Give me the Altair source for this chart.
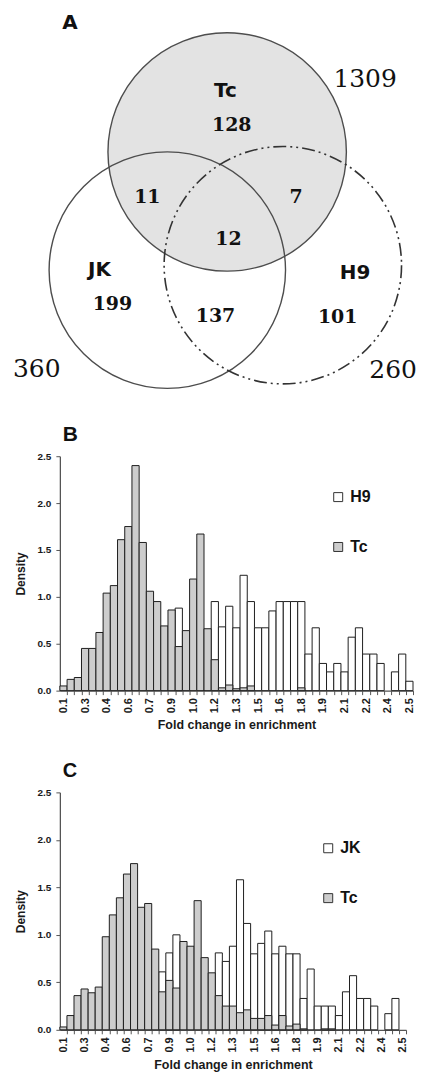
import altair as alt
import pandas as pd

# ---------------- data ----------------
# Panel A (Venn)
SET_NAMES = ["Tc", "JK", "H9"]
SET_TOTALS = ["1309", "360", "260"]
REGION_NAMES = ["Tc only", "JK only", "H9 only", "Tc&JK", "Tc&H9", "JK&H9", "all"]
REGION_COUNTS = ["128", "199", "101", "11", "7", "137", "12"]

# Panels B and C: density histograms, bins of 0.05 centred on 0.1, 0.15, ... 2.5
BIN_FIRST_CENTER = 0.1
BIN_WIDTH = 0.05
TICK_LABELS = ["0.1", "0.3", "0.4", "0.6", "0.7", "0.9", "1.0", "1.2", "1.3",
               "1.5", "1.6", "1.8", "1.9", "2.1", "2.2", "2.4", "2.5"]

B_TC = [0.05, 0.12, 0.14, 0.45, 0.45, 0.62, 1.04, 1.12, 1.61, 1.75, 2.40, 1.58,
        1.06, 0.95, 0.69, 0.86, 0.47, 0.64, 1.19, 1.67, 0.66, 0.33, 0.03, 0.06,
        0.02, 0.03, 0.05, 0, 0, 0, 0, 0, 0, 0.03, 0, 0, 0, 0, 0, 0, 0, 0, 0, 0,
        0, 0, 0, 0, 0]
B_H9 = [0, 0, 0, 0, 0, 0, 0, 0, 0, 0, 0, 0, 0, 0, 0, 0, 0.88, 0, 0, 0, 0,
        0.95, 0.68, 0.90, 0.67, 1.23, 0.95, 0.67, 0.67, 0.85, 0.95, 0.95, 0.95,
        0.95, 0.39, 0.67, 0.29, 0.20, 0.29, 0.20, 0.57, 0.67, 0.39, 0.39, 0.29,
        0, 0.20, 0.39, 0.10]
C_TC = [0.03, 0.15, 0.36, 0.43, 0.39, 0.45, 0.98, 1.21, 1.39, 1.64, 1.75, 1.29,
        1.33, 0.85, 0.40, 0.52, 0.44, 0.93, 0.88, 1.36, 0.76, 0.60, 0.36, 0.25,
        0.25, 0.18, 0.21, 0.12, 0.12, 0.15, 0.05, 0.15, 0.04, 0.06, 0.01, 0, 0,
        0.01, 0.01, 0, 0, 0, 0, 0, 0, 0, 0, 0, 0]
C_JK = [0, 0, 0, 0, 0, 0, 0, 0, 0, 0, 0, 0, 0, 0, 0.61, 0.81, 1.00, 0, 0, 0, 0,
        0, 0.81, 0.72, 0.88, 1.58, 1.12, 0.80, 0.91, 1.04, 0.80, 0.88, 0.80,
        0.80, 0.33, 0.64, 0.25, 0.25, 0.25, 0.15, 0.40, 0.57, 0.33, 0.33, 0.25,
        0, 0.17, 0.33, 0]

# ---------------- Venn geometry (diagram units) ----------------
CIRCLE_CX = [226.7, 166.7, 282.5]
CIRCLE_CY = [151.0, 269.5, 264.5]
CIRCLE_R = [119.5, 118.5, 119.0]
SET_LABEL_POS = [(225, 90.3), (98.7, 269.7), (355, 272)]
TOTAL_POS = [(365, 77.8), (35.8, 368.8), (393, 370)]
REGION_POS = [(231.3, 124.2), (111.7, 303.3), (337.5, 316.7), (146.7, 195.8),
              (295.8, 195.8), (215, 315), (228, 238.3)]

X0 = 59          # diagram unit aligned with the histogram y axes
VW, VH = 359, 386
vx = alt.Scale(domain=[X0, X0 + VW], nice=False, zero=False)
vy = alt.Scale(domain=[8, 8 + VH], nice=False, zero=False, reverse=True)

circles = pd.DataFrame({
    "name": SET_NAMES, "cx": CIRCLE_CX, "cy": CIRCLE_CY,
    "size": [(2 * r) ** 2 for r in CIRCLE_R],
})


def venn_enc(ch):
    return ch.encode(
        x=alt.X("cx:Q", scale=vx, axis=None),
        y=alt.Y("cy:Q", scale=vy, axis=None),
        size=alt.Size("size:Q", scale=None, legend=None),
    )


tc_fill = venn_enc(alt.Chart(circles[circles.name == "Tc"]).mark_point(
    shape="circle", filled=True, color="#e3e3e3", opacity=1, strokeWidth=0))
solid = venn_enc(alt.Chart(circles[circles.name != "H9"]).mark_point(
    shape="circle", filled=False, color="#4d4d4d", opacity=1, strokeWidth=1.4))
dashed = venn_enc(alt.Chart(circles[circles.name == "H9"]).mark_point(
    shape="circle", filled=False, color="#333333", opacity=1, strokeWidth=1.6,
    strokeDash=[13, 4, 2, 4, 2, 4]))

set_lab = pd.DataFrame({"t": SET_NAMES, "x": [p[0] for p in SET_LABEL_POS],
                        "y": [p[1] for p in SET_LABEL_POS]})
tot_lab = pd.DataFrame({"t": SET_TOTALS, "x": [p[0] for p in TOTAL_POS],
                        "y": [p[1] for p in TOTAL_POS]})
reg_lab = pd.DataFrame({"t": REGION_COUNTS, "r": REGION_NAMES,
                        "x": [p[0] for p in REGION_POS],
                        "y": [p[1] for p in REGION_POS]})
panel_a = pd.DataFrame({"t": ["A"], "x": [69], "y": [21.7]})


def txt(df, **kw):
    return alt.Chart(df).mark_text(baseline="middle", align="center", color="#111", **kw).encode(
        x=alt.X("x:Q", scale=vx, axis=None),
        y=alt.Y("y:Q", scale=vy, axis=None),
        text="t:N",
    )


venn = alt.layer(
    tc_fill, solid, dashed,
    txt(set_lab, font="DejaVu Sans", fontSize=20, fontWeight="bold"),
    txt(reg_lab, font="DejaVu Serif", fontSize=19, fontWeight="bold"),
    txt(tot_lab, font="DejaVu Serif", fontSize=25),
    txt(panel_a, font="DejaVu Sans", fontSize=20, fontWeight="bold"),
).properties(width=VW, height=VH)

# ---------------- histograms ----------------
NB = len(B_TC)
lo0 = BIN_FIRST_CENTER - BIN_WIDTH / 2
hi_end = lo0 + NB * BIN_WIDTH
half = BIN_WIDTH / 2
tick_vals = [round(lo0 + half * j, 4) for j in range(2 * NB + 1)]
labels_js = "[" + ",".join("'%s'" % s for s in TICK_LABELS) + "]"
kexpr = "round((datum.value-%g)/%g)" % (lo0, half)
label_expr = ("(%s %% 2 == 1 && ((%s-1)/2) %% 3 == 0) ? %s[((%s-1)/2)/3] : ''"
              % (kexpr, kexpr, labels_js, kexpr))
tick_op = {"condition": {"test": "%s %% 2 == 1" % kexpr, "value": 0}, "value": 1}


def hist(tc, other, other_name, width, height, letter, letter_size,
         legx, legy, rowpad):
    rows = []
    for i in range(NB):
        lo = lo0 + i * BIN_WIDTH
        if other[i] > 0:
            rows.append({"lo": lo, "hi": lo + BIN_WIDTH, "v": other[i], "series": other_name})
    for i in range(NB):
        lo = lo0 + i * BIN_WIDTH
        if tc[i] > 0:
            rows.append({"lo": lo, "hi": lo + BIN_WIDTH, "v": tc[i], "series": "Tc"})
    df = pd.DataFrame(rows)
    xaxis = alt.Axis(
        values=tick_vals, labelExpr=label_expr, tickOpacity=tick_op,
        labelAngle=270, labelOverlap=False, labelFlush=False, labelBound=False,
        tickSize=4, tickColor="#555", domainColor="#555", domainWidth=1.3,
        labelFont="Liberation Sans", labelFontSize=11, labelFontWeight="bold",
        labelColor="#1a1a1a", labelPadding=3, grid=False,
        title="Fold change in enrichment", titleFont="Liberation Sans",
        titleFontSize=12.5, titleFontWeight="bold", titleColor="#1a1a1a",
        titlePadding=6,
    )
    yaxis = alt.Axis(
        values=[0, 0.5, 1.0, 1.5, 2.0, 2.5], format=".1f", grid=False,
        tickSize=4, tickColor="#555", domainColor="#555", domainWidth=1.3,
        labelFont="Liberation Sans", labelFontSize=10, labelFontWeight="bold",
        labelColor="#1a1a1a", labelPadding=5,
        title="Density", titleFont="Liberation Sans", titleFontSize=12,
        titleFontWeight="bold", titleColor="#1a1a1a", titlePadding=10,
    )
    legend = alt.Legend(
        orient="none", legendX=legx, legendY=legy, direction="vertical", title=None,
        symbolType="square", symbolSize=81, symbolStrokeColor="#333",
        symbolStrokeWidth=1, symbolOpacity=1, labelFont="Liberation Sans",
        labelFontSize=16, labelFontWeight="bold", labelColor="#111",
        rowPadding=rowpad, labelOffset=4,
    )
    return alt.Chart(df).mark_bar(stroke="#1f1f1f", strokeWidth=1, opacity=1).encode(
        x=alt.X("lo:Q", scale=alt.Scale(domain=[lo0, hi_end], nice=False, zero=False), axis=xaxis),
        x2="hi:Q",
        y=alt.Y("v:Q", scale=alt.Scale(domain=[0, 2.5], nice=False), axis=yaxis, stack=None),
        y2=alt.datum(0),
        fill=alt.Fill("series:N", scale=alt.Scale(domain=[other_name, "Tc"],
                                                   range=["#ffffff", "#cdcdcd"]),
                      legend=legend),
    ).properties(
        width=width, height=height,
        title=alt.TitleParams(letter, anchor="start", frame="group", dx=3,
                              font="Liberation Sans", fontSize=letter_size,
                              fontWeight="bold", color="#111", offset=6),
    )


panel_b = hist(B_TC, B_H9, "H9", 354, 235, "B", 21, 271, 33, 34)
panel_c = hist(C_TC, C_JK, "JK", 347, 238, "C", 20, 261, 48, 34)

chart = alt.vconcat(
    venn, panel_b, panel_c, spacing=30,
).resolve_scale(fill="independent").resolve_legend(fill="independent").properties(
    padding={"left": 4, "top": 0, "right": 0, "bottom": 0},
).configure_view(stroke=None)

chart.save("out.html", embed_options={"renderer": "svg", "actions": False})
